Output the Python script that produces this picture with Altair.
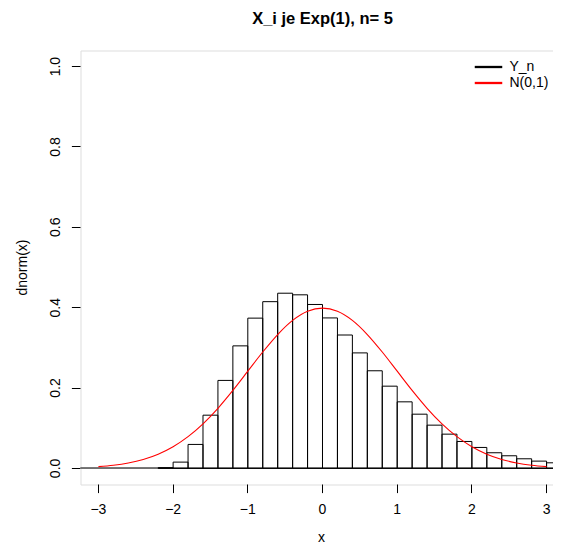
import altair as alt
import pandas as pd

# Histogram of standardized sums (bin width 0.2)
bin_start = [-2.2, -2.0, -1.8, -1.6, -1.4, -1.2, -1.0, -0.8, -0.6, -0.4, -0.2,
             0.0, 0.2, 0.4, 0.6, 0.8, 1.0, 1.2, 1.4, 1.6, 1.8, 2.0, 2.2, 2.4,
             2.6, 2.8, 3.0]
density = [0.002, 0.0157, 0.0597, 0.1325, 0.219, 0.305, 0.374, 0.415, 0.436,
           0.432, 0.408, 0.3745, 0.332, 0.2875, 0.243, 0.2047, 0.1657, 0.135,
           0.1077, 0.0853, 0.0671, 0.0522, 0.039, 0.0315, 0.024, 0.0182, 0.014]

# N(0,1) curve values
curve_x = [-3.0, -2.8, -2.6, -2.4, -2.2, -2.0, -1.8, -1.6, -1.4, -1.2, -1.0,
           -0.8, -0.6, -0.4, -0.2, 0.0, 0.2, 0.4, 0.6, 0.8, 1.0, 1.2, 1.4,
           1.6, 1.8, 2.0, 2.2, 2.4, 2.6, 2.8, 3.0]
curve_y = [0.0044, 0.0079, 0.0136, 0.0224, 0.0355, 0.0540, 0.0790, 0.1109,
           0.1497, 0.1942, 0.2420, 0.2897, 0.3332, 0.3683, 0.3910, 0.3989,
           0.3910, 0.3683, 0.3332, 0.2897, 0.2420, 0.1942, 0.1497, 0.1109,
           0.0790, 0.0540, 0.0355, 0.0224, 0.0136, 0.0079, 0.0044]

legend_labels = ["Y_n", "N(0,1)"]
legend_colors = ["black", "red"]
x_ticks = [-3, -2, -1, 0, 1, 2, 3]
y_ticks = [0.0, 0.2, 0.4, 0.6, 0.8, 1.0]

bins = pd.DataFrame({
    "start": bin_start,
    "end": [round(b + 0.2, 1) for b in bin_start],
    "density": density,
})
curve = pd.DataFrame({"x": curve_x, "y": curve_y, "series": "N(0,1)"})

FONT = "Liberation Sans"
xscale = alt.Scale(domain=[-3.24, 3.24], nice=False, zero=False)
yscale = alt.Scale(domain=[-0.04, 1.04], nice=False, zero=False)

xaxis = alt.Axis(values=x_ticks, format="d", title="x", domain=False, grid=False,
                 translate=0,
                 tickSize=8.6, tickColor="black", labelFontSize=14,
                 labelFont=FONT, labelColor="black", labelBaseline="alphabetic",
                 labelPadding=21, titleFont=FONT, titleFontSize=14,
                 titleFontWeight="normal", titleColor="black",
                 titleBaseline="alphabetic", titleY=57, titleX=241)
yaxis = alt.Axis(values=y_ticks, format=".1f", title="dnorm(x)", domain=False,
                 grid=False, translate=0, tickSize=8.6, tickColor="black",
                 labelFontSize=14,
                 labelFont=FONT, labelColor="black", labelAngle=270,
                 labelAlign="center", labelBaseline="alphabetic",
                 labelPadding=12.4, titleFont=FONT, titleFontSize=14,
                 titleFontWeight="normal", titleColor="black", titleAngle=270,
                 titleAlign="center", titleBaseline="alphabetic",
                 titleX=-54, titleY=217)

zero_line = alt.Chart(bins).mark_rule(color="#707070", strokeWidth=1).encode(
    y=alt.datum(0, scale=yscale)
)

bars = alt.Chart(bins).mark_rect(fillOpacity=0, stroke="black", strokeWidth=1).encode(
    x=alt.X("start:Q", scale=xscale, axis=xaxis),
    x2="end:Q",
    y=alt.Y("density:Q", scale=yscale, axis=yaxis),
    y2=alt.datum(0),
)

line = alt.Chart(curve).mark_line(strokeWidth=1.1, interpolate="monotone").encode(
    x=alt.X("x:Q", scale=xscale),
    y=alt.Y("y:Q", scale=yscale),
    color=alt.Color(
        "series:N",
        scale=alt.Scale(domain=legend_labels, range=legend_colors),
        legend=alt.Legend(
            title=None, orient="none", legendX=401, legendY=9.5,
            symbolType="M-2.5,0H2.5", symbolSize=121, symbolStrokeWidth=2.3,
            labelFont=FONT, labelFontSize=14, labelColor="black",
            labelOffset=14, rowPadding=2, padding=0,
        ),
    ),
)

chart = alt.layer(zero_line, bars, line).properties(
    width=484,
    height=434,
    autosize=alt.AutoSizeParams(type="none"),
    padding={"left": 72.5, "top": 42.5, "right": -11.5, "bottom": 61.5},
    title=alt.TitleParams(
        "X_i je Exp(1), n= 5", font=FONT, fontSize=16.5, fontWeight="bold",
        color="black", anchor="middle", frame="group", baseline="alphabetic",
        offset=10,
    ),
).configure_view(stroke="black", strokeWidth=1).configure(background="white")

chart.save("out.html", embed_options={"renderer": "svg", "actions": False})
